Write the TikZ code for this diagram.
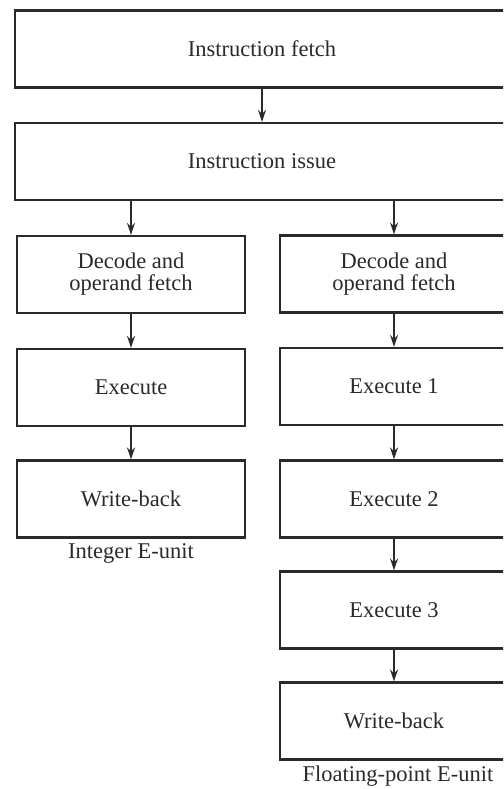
\documentclass[tikz,border=0pt]{standalone}
\usepackage{fontspec}
\setmainfont{Liberation Serif}
\usetikzlibrary{arrows.meta}
\definecolor{ink}{HTML}{2A2A2A}
\tikzset{
  stage/.style={draw=ink, line width=2.2pt, text=ink, align=center,
    inner sep=0pt, minimum height=77pt,
    font=\fontsize{22.5}{22}\selectfont},
  wide/.style={stage, minimum width=494pt},
  col/.style={stage, minimum width=228pt},
  flow/.style={draw=ink, line width=1.8pt, -{Stealth[length=12pt,width=8pt]}},
  unitlabel/.style={text=ink, inner sep=0pt, font=\fontsize{22.5}{22}\selectfont}
}
\begin{document}
\begin{tikzpicture}[x=1pt,y=-1pt]
  \useasboundingbox (0,0) rectangle (503,789);
  \clip (0,0) rectangle (503,789);
  \fill[white] (0,0) rectangle (503,789);

  % shared front end
  \node[wide] (fetch) at (262,49) {Instruction fetch};
  \node[wide] (issue) at (262,161.5) {Instruction issue};

  % integer unit
  \node[col] (idec) at (131,274.5) {Decode and\\operand fetch};
  \node[col] (iexe) at (131,387.5) {Execute};
  \node[col] (iwb)  at (131,499)   {Write-back};
  \node[unitlabel] (ilab) at (131,553) {Integer E-unit};

  % floating-point unit
  \node[col] (fdec) at (394,274) {Decode and\\operand fetch};
  \node[col] (fex1) at (394,386.5) {Execute 1};
  \node[col] (fex2) at (394,499)   {Execute 2};
  \node[col] (fex3) at (394,610)   {Execute 3};
  \node[col] (fwb)  at (394,721)   {Write-back};
  \node[unitlabel] (flab) at (398,776) {Floating-point E-unit};

  % connectors
  \coordinate (fetchout) at (262,88);
  \draw[flow] (fetchout) -- (fetchout |- issue.north);
  \coordinate (issueL) at (131,200);
  \coordinate (issueR) at (394,200);
  \draw[flow] (issueL) -- (idec.north);
  \draw[flow] (issueR) -- (fdec.north);
  \draw[flow] (idec) -- (iexe);
  \draw[flow] (iexe) -- (iwb);
  \draw[flow] (fdec) -- (fex1);
  \draw[flow] (fex1) -- (fex2);
  \draw[flow] (fex2) -- (fex3);
  \draw[flow] (fex3) -- (fwb);
\end{tikzpicture}
\end{document}
